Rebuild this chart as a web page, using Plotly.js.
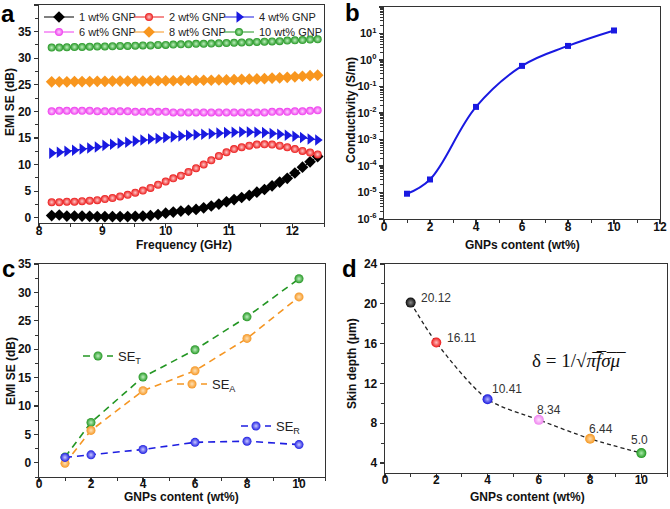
<!DOCTYPE html>
<html><head><meta charset="utf-8">
<script src="https://cdn.plot.ly/plotly-3.0.1.min.js"></script>
<style>html,body{margin:0;padding:0;background:#fff}#chart{width:670px;height:509px}</style>
</head><body><div id="chart"></div>
<script>
// ---------- Panel a: EMI SE vs frequency ----------
const freq = [8.20,8.32,8.44,8.56,8.68,8.80,8.92,9.04,9.16,9.28,9.40,9.52,9.64,9.76,9.88,10.00,10.12,10.24,10.36,10.48,10.60,10.72,10.84,10.96,11.08,11.20,11.32,11.44,11.56,11.68,11.80,11.92,12.04,12.16,12.28,12.40];
const se1wt = [0.4,0.5,0.3,0.3,0.3,0.25,0.2,0.2,0.2,0.2,0.2,0.25,0.3,0.4,0.6,0.85,1.05,1.25,1.4,1.55,1.85,2.2,2.55,3.0,3.4,3.8,4.2,4.8,5.3,6.0,6.7,7.4,8.4,9.5,10.5,11.5];
const se2wt = [2.9,2.9,3.0,3.0,3.1,3.2,3.3,3.5,3.7,4.0,4.3,4.7,5.1,5.6,6.2,6.8,7.4,7.9,8.6,9.3,10.0,10.8,11.6,12.3,12.9,13.25,13.55,13.75,13.8,13.75,13.55,13.25,12.9,12.55,12.25,11.9];
const se4wt = [12.1,12.3,12.5,12.7,12.9,13.1,13.3,13.6,13.8,14.0,14.2,14.4,14.6,14.8,14.9,15.1,15.2,15.35,15.5,15.6,15.7,15.8,15.9,16.0,16.05,16.1,16.1,16.05,16.0,15.85,15.7,15.5,15.3,15.1,14.8,14.6];
const se6wt = [20.0,20.1,20.1,20.1,20.1,20.1,20.0,20.0,20.0,20.0,20.0,19.9,19.9,19.9,19.9,19.9,19.8,19.8,19.8,19.8,19.8,19.8,19.8,19.8,19.8,19.8,19.8,19.8,19.8,19.9,19.9,19.9,20.0,20.0,20.1,20.2];
const se8wt = [25.55,25.55,25.55,25.6,25.6,25.6,25.65,25.65,25.7,25.7,25.7,25.7,25.7,25.75,25.75,25.75,25.75,25.8,25.8,25.8,25.85,25.85,25.9,25.9,25.95,26.0,26.05,26.1,26.15,26.25,26.3,26.4,26.5,26.6,26.7,26.8];
const se10wt = [32.0,32.0,32.05,32.1,32.1,32.15,32.2,32.2,32.25,32.3,32.3,32.35,32.4,32.4,32.5,32.5,32.55,32.6,32.6,32.7,32.7,32.75,32.8,32.85,32.9,32.95,33.0,33.05,33.1,33.15,33.2,33.3,33.35,33.4,33.5,33.55];
const seriesNamesA = ['1 wt% GNP','2 wt% GNP','4 wt% GNP','6 wt% GNP','8 wt% GNP','10 wt% GNP'];

// ---------- Panel b: conductivity ----------
const gnpContent = [1,2,4,6,8,10];
const conductivity = [9.0e-6,3.1e-5,1.7e-2,0.6,3.4,13];
const logTickVals = [1e-6,1e-5,1e-4,1e-3,1e-2,1e-1,1,10,100];
const logTickText = ['10<sup>-6</sup>','10<sup>-5</sup>','10<sup>-4</sup>','10<sup>-3</sup>','10<sup>-2</sup>','10<sup>-1</sup>','10<sup>0</sup>','10<sup>1</sup>','10<sup>2</sup>'];

// ---------- Panel c: SE components ----------
const seTotal = [1.0,7.1,15.1,19.9,25.7,32.4];
const seAbs = [-0.1,5.7,12.7,16.2,21.9,29.2];
const seRef = [0.95,1.4,2.35,3.6,3.8,3.2];
const seNamesC = ['SE<sub>T</sub>','SE<sub>A</sub>','SE<sub>R</sub>'];

// ---------- Panel d: skin depth ----------
const skinDepth = [20.12,16.11,10.41,8.34,6.44,5.0];
const skinLabels = ['20.12','16.11','10.41','8.34','6.44','5.0'];

const W = 670, H = 509;
const px = (a,b)=>[a/W, b/W];
const py = (top,bot)=>[1-bot/H, 1-top/H];
const FONT = 'Liberation Sans, Arial, sans-serif';

function axis(extra){
  return Object.assign({
    showline:true, linecolor:'#333', linewidth:1.3, mirror:true,
    ticks:'outside', ticklen:4, tickwidth:1.2, tickcolor:'#333',
    showgrid:false, zeroline:false,
    tickfont:{family:FONT, size:12, color:'#111', weight:'bold'}
  }, extra);
}
const minorT = d => ({ticks:'outside', ticklen:2.5, tickwidth:1, tickcolor:'#333', dtick:d});

const colA = ['#000000','rgb(235,25,25)','rgb(25,25,225)','rgb(238,60,238)','rgb(248,150,30)','rgb(35,150,35)'];
const hiA  = ['#000','rgb(255,200,200)','#000','rgb(255,210,255)','#000','rgb(190,240,190)'];
const symA = ['diamond','circle','triangle-right','circle','diamond','circle'];
const sizeA = [9,8,10,8,9,8];
const yA = [se1wt,se2wt,se4wt,se6wt,se8wt,se10wt];
const legA = ['legend','legend2','legend3','legend4','legend5','legend6'];

const traces = [];
yA.forEach((ys,i)=>{
  const mk = {symbol:symA[i], size:sizeA[i], color:colA[i], line:{width:0}};
  if(symA[i]==='circle'){ mk.gradient = {type:'radial', color:hiA[i]}; }
  traces.push({
    type:'scatter', mode:'lines+markers', x:freq, y:ys, name:seriesNamesA[i],
    xaxis:'x', yaxis:'y', line:{color:colA[i], width:1}, marker:mk,
    legend: legA[i], showlegend:true
  });
});

traces.push({
  type:'scatter', mode:'lines+markers', x:gnpContent, y:conductivity,
  xaxis:'x2', yaxis:'y2', showlegend:false,
  line:{color:'rgb(25,25,225)', width:2, shape:'spline', smoothing:1.1},
  marker:{symbol:'square', size:6, color:'rgb(25,25,225)'}
});

const cY = [seTotal, seAbs, seRef];
const cCol = ['rgb(35,150,35)','rgb(245,150,35)','rgb(30,30,225)'];
const cHi = ['rgb(190,240,190)','rgb(255,225,180)','rgb(200,200,255)'];
const cLeg = ['legend7','legend8','legend9'];
cY.forEach((ys,i)=>{
  traces.push({
    type:'scatter', mode:'lines+markers', x:gnpContent, y:ys, name:seNamesC[i],
    xaxis:'x3', yaxis:'y3', legend:cLeg[i], showlegend:true,
    line:{color:cCol[i], width:1.6, dash:'7px,5px'},
    marker:{symbol:'circle', size:9, color:cCol[i], gradient:{type:'radial', color:cHi[i]}, line:{width:0}}
  });
});

const colD = ['rgb(10,10,10)','rgb(235,20,20)','rgb(20,20,220)','rgb(238,130,238)','rgb(245,150,30)','rgb(30,150,30)'];
const hiD  = ['rgb(140,140,140)','rgb(255,190,190)','rgb(180,180,255)','rgb(255,225,255)','rgb(255,220,170)','rgb(170,235,170)'];
traces.push({
  type:'scatter', mode:'lines', x:gnpContent, y:skinDepth, xaxis:'x4', yaxis:'y4', showlegend:false,
  line:{color:'#222', width:1.3, dash:'4px,3px', shape:'spline', smoothing:0.8}
});
traces.push({
  type:'scatter', mode:'markers', x:gnpContent, y:skinDepth, xaxis:'x4', yaxis:'y4', showlegend:false,
  marker:{symbol:'circle', size:10, color:colD, gradient:{type:'radial', color:hiD}, line:{width:0}}
});

const labelShift = [[8,5],[9,5],[2,10],[-4,10],[-3,10],[-12,13]];
const annotations = skinLabels.map((t,i)=>({
  xref:'x4', yref:'y4', x:gnpContent[i], y:skinDepth[i], text:t, showarrow:false,
  xanchor:'left', yanchor:'middle', xshift:labelShift[i][0], yshift:labelShift[i][1],
  font:{family:FONT, size:12, color:'#333'}
}));
annotations.push({xref:'paper', yref:'paper', x:579/W, y:1-360/H, text:'δ = 1/√<i>π̅f̅σ̅μ̅</i>', showarrow:false,
  xanchor:'center', yanchor:'middle', font:{family:'Liberation Serif, DejaVu Serif, serif', size:19, color:'#111'}});
const panelLbl = [['a',8,13],['b',352,12],['c',8,268],['d',349,268]];
panelLbl.forEach(p=>annotations.push({xref:'paper', yref:'paper', x:p[1]/W, y:1-p[2]/H, text:'<b>'+p[0]+'</b>', showarrow:false,
  xanchor:'center', yanchor:'middle', font:{family:FONT, size:24, color:'#000'}}));

// axis titles [text, x, y, angle]
const axisTitles = [
  ['Frequency (GHz)',184,245,0],['EMI SE (dB)',10,102,-90],
  ['GNPs content (wt%)',522,245,0],['Conductivity (S/m)',351,110,-90],
  ['GNPs content (wt%)',182,497,0],['EMI SE (dB)',11,371,-90],
  ['GNPs content (wt%)',527,497,0],['Skin depth (μm)',352,364,-90]
];
axisTitles.forEach(t=>annotations.push({xref:'paper', yref:'paper', x:t[1]/W, y:1-t[2]/H, text:t[0], textangle:t[3], showarrow:false,
  xanchor:'center', yanchor:'middle', font:{family:FONT, size:12, color:'#111', weight:'bold'}}));

const legBase = {xanchor:'left', yanchor:'middle', bgcolor:'rgba(0,0,0,0)', borderwidth:0,
  font:{family:FONT, size:11, color:'#222'}, itemwidth:30};
const legC = Object.assign({}, legBase, {font:{family:FONT, size:13, color:'#222'}});
// legend anchor positions (px)
const legPosA = [[39,17],[129,17],[219,17],[39,32],[129,32],[219,32]];
const legPosC = [[78,356],[172,384],[236,426]];

const layout = {
  width:W, height:H, margin:{l:0,r:0,t:0,b:0}, paper_bgcolor:'#fff', plot_bgcolor:'#fff', showlegend:true,
  xaxis: axis({domain:px(39,324), range:[8,12.5], dtick:1, tick0:8, minor:minorT(0.5), anchor:'y', ticklabelstandoff:-8}),
  yaxis: axis({domain:py(5,223), range:[-1,40], dtick:5, tick0:0, minor:minorT(2.5), anchor:'x'}),
  xaxis2: axis({domain:px(384,660), range:[0,12], dtick:2, tick0:0, minor:minorT(1), anchor:'y2', ticklabelstandoff:-8}),
  yaxis2: axis({domain:py(7,219), type:'log', range:[-6,2], tickmode:'array', tickvals:logTickVals, ticktext:logTickText,
     tickfont:{family:FONT, size:11, color:'#111', weight:'bold'}, minor:minorT('D1'), anchor:'x2'}),
  xaxis3: axis({domain:px(39,325), range:[0,11], dtick:2, tick0:0, minor:minorT(1), anchor:'y3', ticklabelstandoff:-9}),
  yaxis3: axis({domain:py(264,477), range:[-2.5,35], dtick:5, tick0:0, minor:minorT(2.5), anchor:'x3'}),
  xaxis4: axis({domain:px(385,667), range:[0,11], dtick:2, tick0:0, minor:minorT(1), anchor:'y4', ticklabelstandoff:-9}),
  yaxis4: axis({domain:py(264,473), range:[3,24], dtick:4, tick0:0, minor:minorT(2), anchor:'x4'}),
  annotations: annotations
};
legA.forEach((k,i)=>{ layout[k] = Object.assign({}, legBase, {x:legPosA[i][0]/W, y:1-legPosA[i][1]/H}); });
cLeg.forEach((k,i)=>{ layout[k] = Object.assign({}, legC, {x:legPosC[i][0]/W, y:1-legPosC[i][1]/H}); });

Plotly.newPlot('chart', traces, layout, {staticPlot:true, displayModeBar:false});
</script></body></html>
